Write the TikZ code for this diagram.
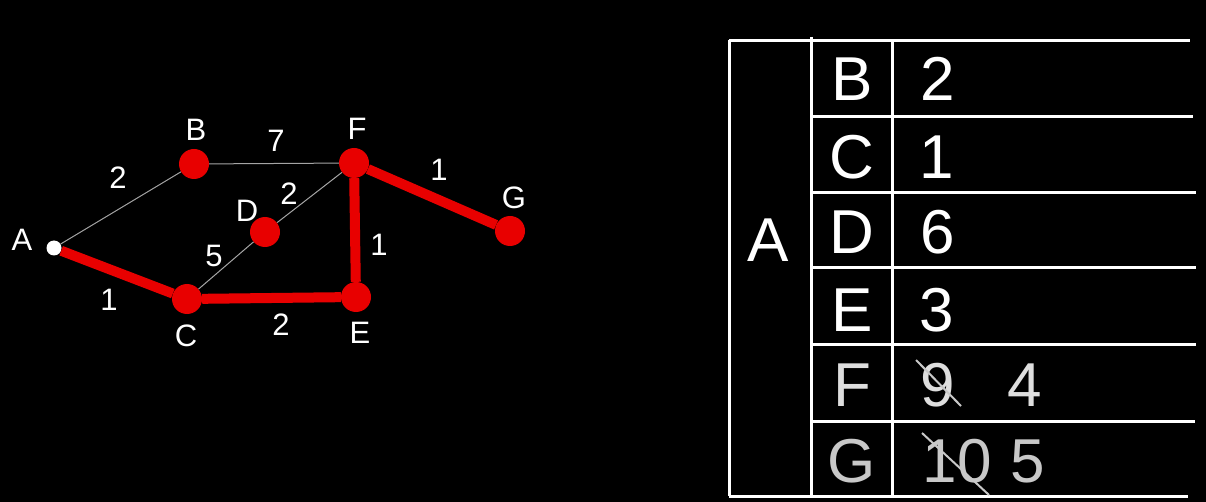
\documentclass[tikz,border=0pt]{standalone}
\usepackage{fontspec}
\setmainfont{Liberation Sans}
\definecolor{pathred}{RGB}{232,0,0}
\definecolor{edgegrey}{RGB}{165,165,165}
\definecolor{fadeF}{RGB}{222,222,222}
\definecolor{fadeG}{RGB}{200,200,200}
\tikzset{
  vertex/.style={circle, fill=pathred, minimum size=30pt, inner sep=0pt},
  source/.style={circle, fill=white, minimum size=15pt, inner sep=0pt},
  lbl/.style={text=white, font=\fontsize{31}{33}\selectfont, inner sep=0pt},
  thinedge/.style={draw=edgegrey, line width=1pt},
  pathedge/.style={draw=pathred, line width=10pt},
  cell/.style={text=white, font=\fontsize{62}{64}\selectfont, inner sep=0pt},
  gridline/.style={draw=white, line width=3pt},
  strike/.style={draw=fadeG, line width=2pt},
}
\begin{document}
\begin{tikzpicture}[x=1pt, y=-1pt]
        % Background
        \fill[black] (0,0) rectangle (1206,502);
        \useasboundingbox (0,0) rectangle (1206,502);

        % Vertices
        \node[source] (A) at (54,248) {};
        \node[vertex] (B) at (194,164) {};
        \node[vertex] (F) at (354,163) {};
        \node[vertex] (D) at (265,232) {};
        \node[vertex] (G) at (510,231) {};
        \node[vertex] (C) at (187,299) {};
        \node[vertex] (E) at (356,297) {};

        % Vertex names
        \node[lbl] (labA) at (22,240) {A};
        \node[lbl] (labB) at (196,130) {B};
        \node[lbl] (labF) at (357,129) {F};
        \node[lbl] (labD) at (247,211) {D};
        \node[lbl] (labG) at (514,198) {G};
        \node[lbl] (labC) at (186,336) {C};
        \node[lbl] (labE) at (360,333) {E};

        % Edges not used
        \draw[thinedge] (A) -- (B);
        \draw[thinedge] (B) -- (F);
        \draw[thinedge] (C) -- (D);
        \draw[thinedge] (D) -- (F);

        % Shortest path tree
        \draw[pathedge] (A) -- (C);
        \draw[pathedge] (C) -- (E);
        \draw[pathedge] (E) -- (F);
        \draw[pathedge] (F) -- (G);

        % Weights
        \node[lbl] (wAB) at (118,178) {2};
        \node[lbl] (wBF) at (276,141) {7};
        \node[lbl] (wDF) at (289,194) {2};
        \node[lbl] (wCD) at (214,256) {5};
        \node[lbl] (wAC) at (109,300) {1};
        \node[lbl] (wCE) at (281,325) {2};
        \node[lbl] (wEF) at (379,245) {1};
        \node[lbl] (wFG) at (439,170) {1};

        % Distance table
        \draw[gridline] (729,41) -- (1190,41);
        \draw[gridline] (811,117) -- (1193,117);
        \draw[gridline] (811,193) -- (1196,193);
        \draw[gridline] (811,268) -- (1196,268);
        \draw[gridline] (811,344) -- (1196,344);
        \draw[gridline] (811,421) -- (1195,421);
        \draw[gridline] (729,496) -- (1188,496);
        \draw[gridline] (729,40) -- (729,496);
        \draw[gridline] (811,37) -- (811,496);
        \draw[gridline] (892,40) -- (892,496);

        \node[cell] (tA) at (768,240) {A};
        \node[cell] (tB) at (852,79) {B};
        \node[cell] (tC) at (852,157) {C};
        \node[cell] (tD) at (852,232) {D};
        \node[cell] (tE) at (852,310) {E};
        \node[cell, text=fadeF] (tF) at (852,385) {F};
        \node[cell, text=fadeG] (tG) at (852,461) {G};

        \node[cell] (dB) at (938,79) {2};
        \node[cell] (dC) at (937,157) {1};
        \node[cell] (dD) at (938,232) {6};
        \node[cell] (dE) at (937,310) {3};
        \node[cell, text=fadeF] (dFold) at (938,385) {9};
        \node[cell, text=fadeF] (dF) at (1025,385) {4};
        \node[cell, text=fadeG] (dGold) at (957,461) {10};
        \node[cell, text=fadeG] (dG) at (1028,461) {5};

        % Crossed out values
        \draw[strike] (916,360) -- (961,406);
        \draw[strike] (922,433) -- (989,495);
    \end{tikzpicture}
\end{document}
